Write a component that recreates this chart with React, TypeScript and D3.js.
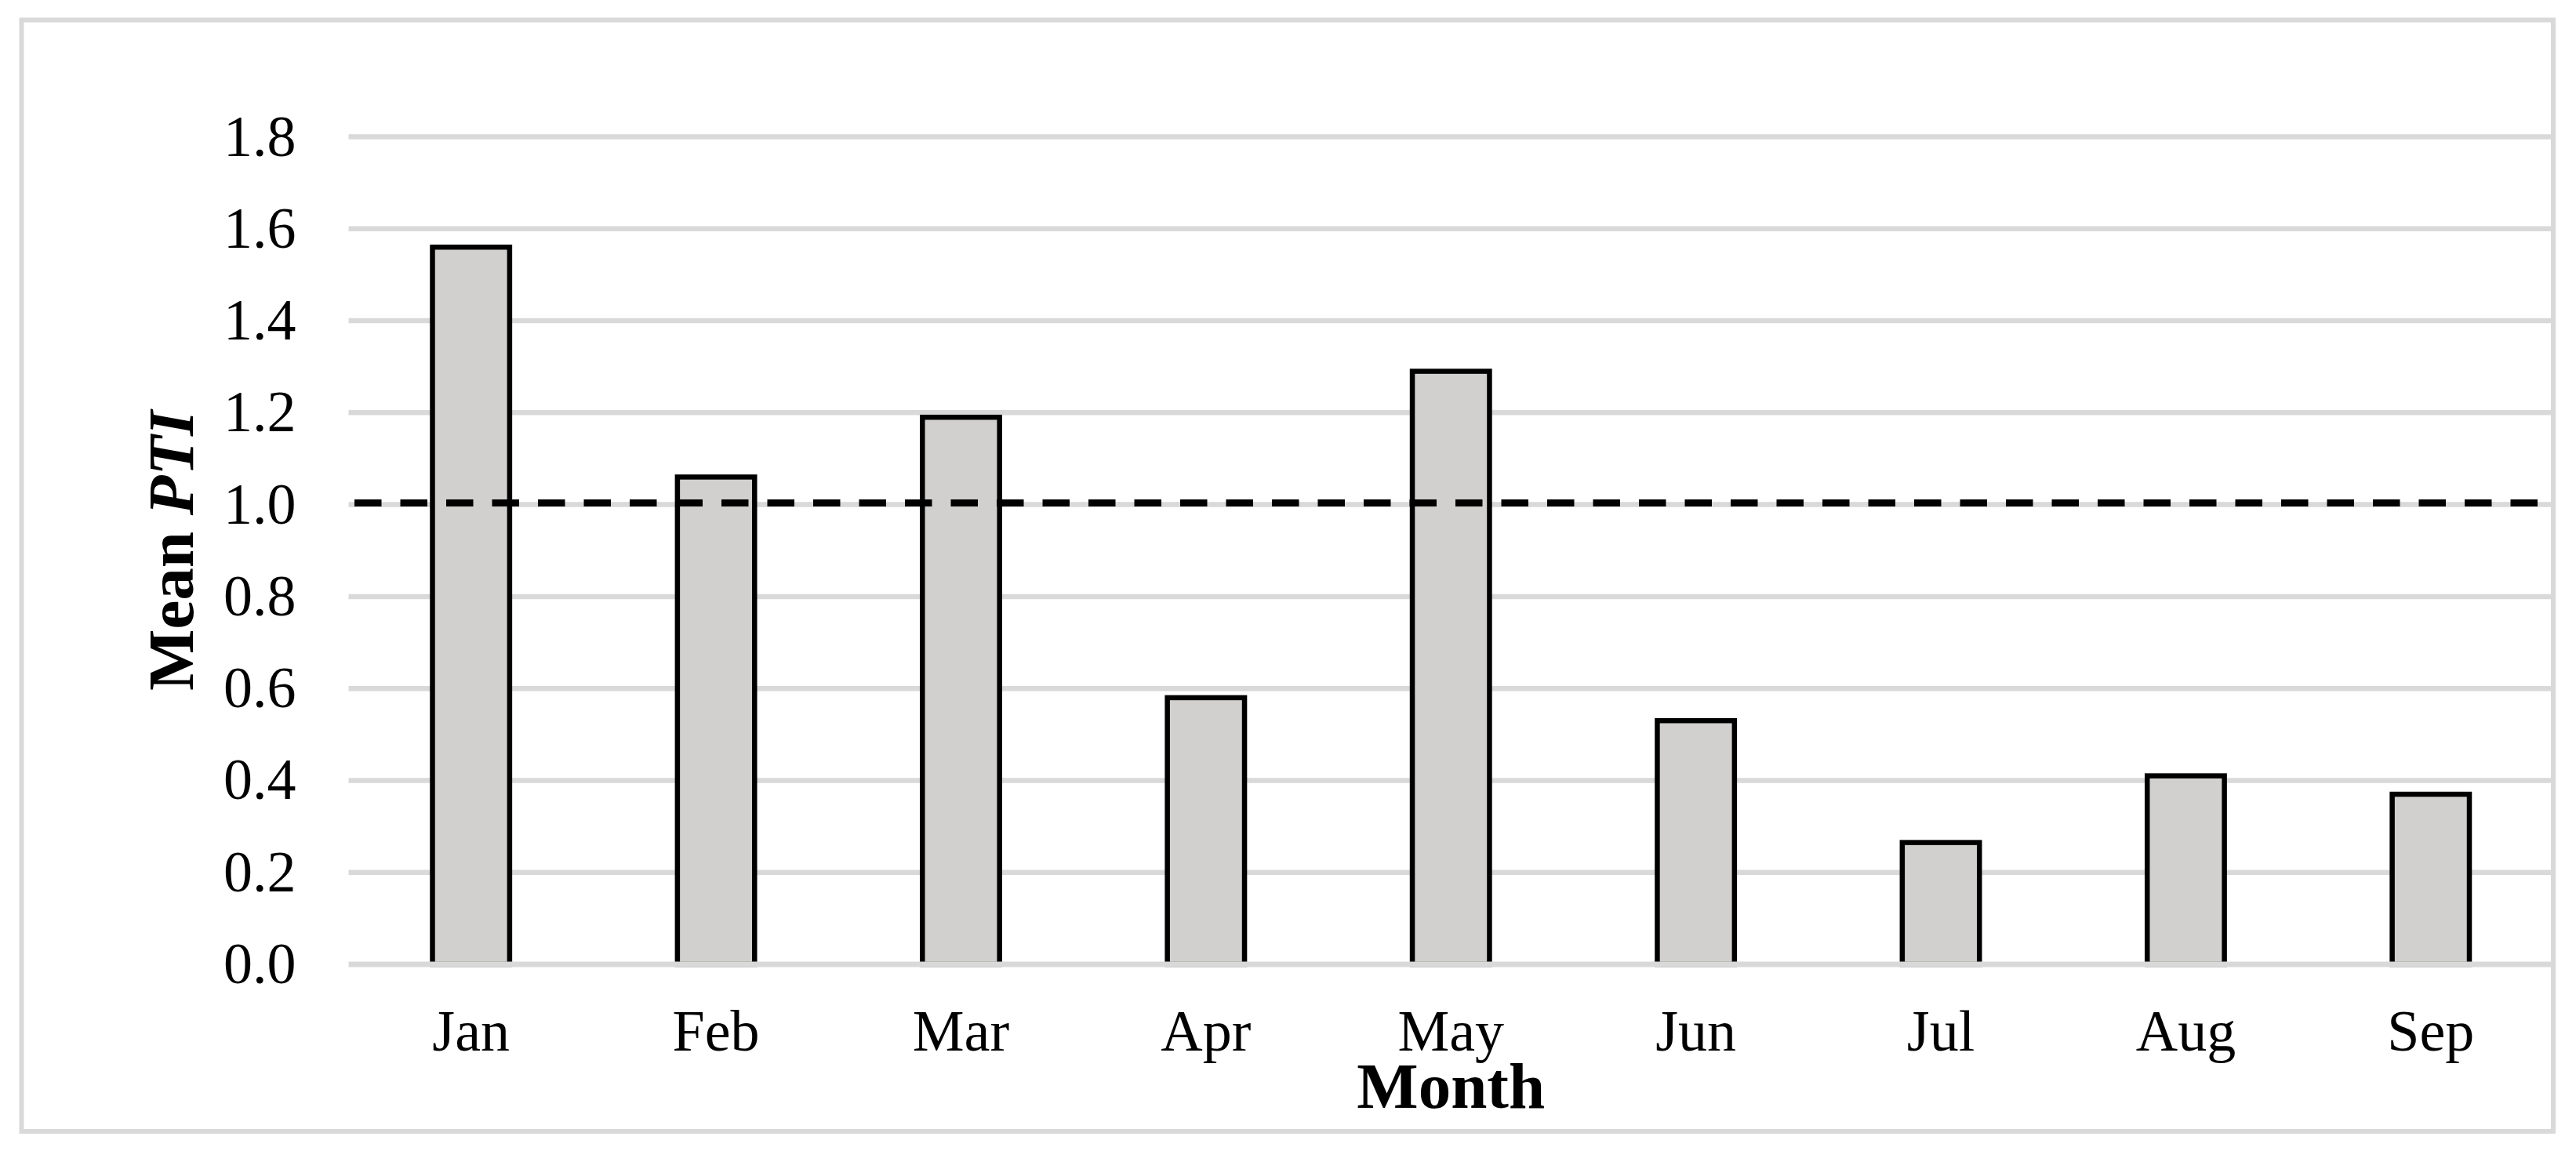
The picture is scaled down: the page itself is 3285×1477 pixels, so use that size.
import React from "react";
import * as d3 from "d3";

const months = ["Jan", "Feb", "Mar", "Apr", "May", "Jun", "Jul", "Aug", "Sep"];
const meanPTI = [1.56, 1.06, 1.19, 0.58, 1.29, 0.53, 0.265, 0.41, 0.37];
const yTicks = [0, 0.2, 0.4, 0.6, 0.8, 1.0, 1.2, 1.4, 1.6, 1.8];
const referenceValue = 1.0;

const W = 3285;
const H = 1477;
const FONT = "'Liberation Serif', 'Times New Roman', Times, serif";

export default function App() {
  const left = 444.5;
  const right = 3256;
  const yTop = 174.5;
  const yBottom = 1230;

  const x = d3.scaleBand<string>().domain(months).range([left, right]).padding(0);
  const y = d3.scaleLinear().domain([0, 1.8]).range([yBottom, yTop]);
  const barW = x.bandwidth() * 0.315;
  const grid = "#d9d9d9";

  return (
    <svg
      width={W}
      height={H}
      viewBox={`0 0 ${W} ${H}`}
      style={{ position: "absolute", left: 0, top: 0, background: "#fff" }}
      fontFamily={FONT}
    >
      <rect x={0} y={0} width={W} height={H} fill="#fff" />
      {/* outer border */}
      <rect x={27.5} y={25.5} width={3256 - 27.5} height={1443 - 25.5} fill="none" stroke={grid} strokeWidth={6} />

      {/* gridlines (except zero line) */}
      {yTicks.filter((t) => t !== 0).map((t) => (
        <line key={t} x1={left} x2={right} y1={y(t)} y2={y(t)} stroke={grid} strokeWidth={6.5} />
      ))}

      {/* bars */}
      {months.map((m, i) => {
        const cx = (x(m) as number) + x.bandwidth() / 2;
        return (
          <rect
            key={m}
            x={cx - barW / 2}
            y={y(meanPTI[i])}
            width={barW}
            height={y(0) - y(meanPTI[i])}
            fill="#d1d0ce"
            stroke="#000"
            strokeWidth={6.5}
          />
        );
      })}

      {/* zero line */}
      <line x1={left} x2={right} y1={y(0)} y2={y(0)} stroke={grid} strokeWidth={7} />

      {/* reference dashed line */}
      <line
        x1={452}
        x2={right}
        y1={y(referenceValue) - 2}
        y2={y(referenceValue) - 2}
        stroke="#000"
        strokeWidth={9}
        strokeDasharray="34.5 24"
      />

      {/* y tick labels */}
      {yTicks.map((t) => (
        <text key={t} x={377.5} y={y(t) + 24} textAnchor="end" fontSize={74} fill="#000">
          {d3.format(".1f")(t)}
        </text>
      ))}

      {/* x labels */}
      {months.map((m) => (
        <text
          key={m}
          x={(x(m) as number) + x.bandwidth() / 2}
          y={1340}
          textAnchor="middle"
          fontSize={74}
          fill="#000"
        >
          {m}
        </text>
      ))}

      {/* axis titles */}
      <text x={(left + right) / 2} y={1412.7} textAnchor="middle" fontSize={83} fontWeight="bold" fill="#000">
        Month
      </text>
      <text
        transform={`translate(246, ${(yTop + yBottom) / 2}) rotate(-90)`}
        textAnchor="middle"
        fontSize={83}
        fontWeight="bold"
        fill="#000"
      >
        Mean <tspan fontStyle="italic">PTI</tspan>
      </text>
    </svg>
  );
}
